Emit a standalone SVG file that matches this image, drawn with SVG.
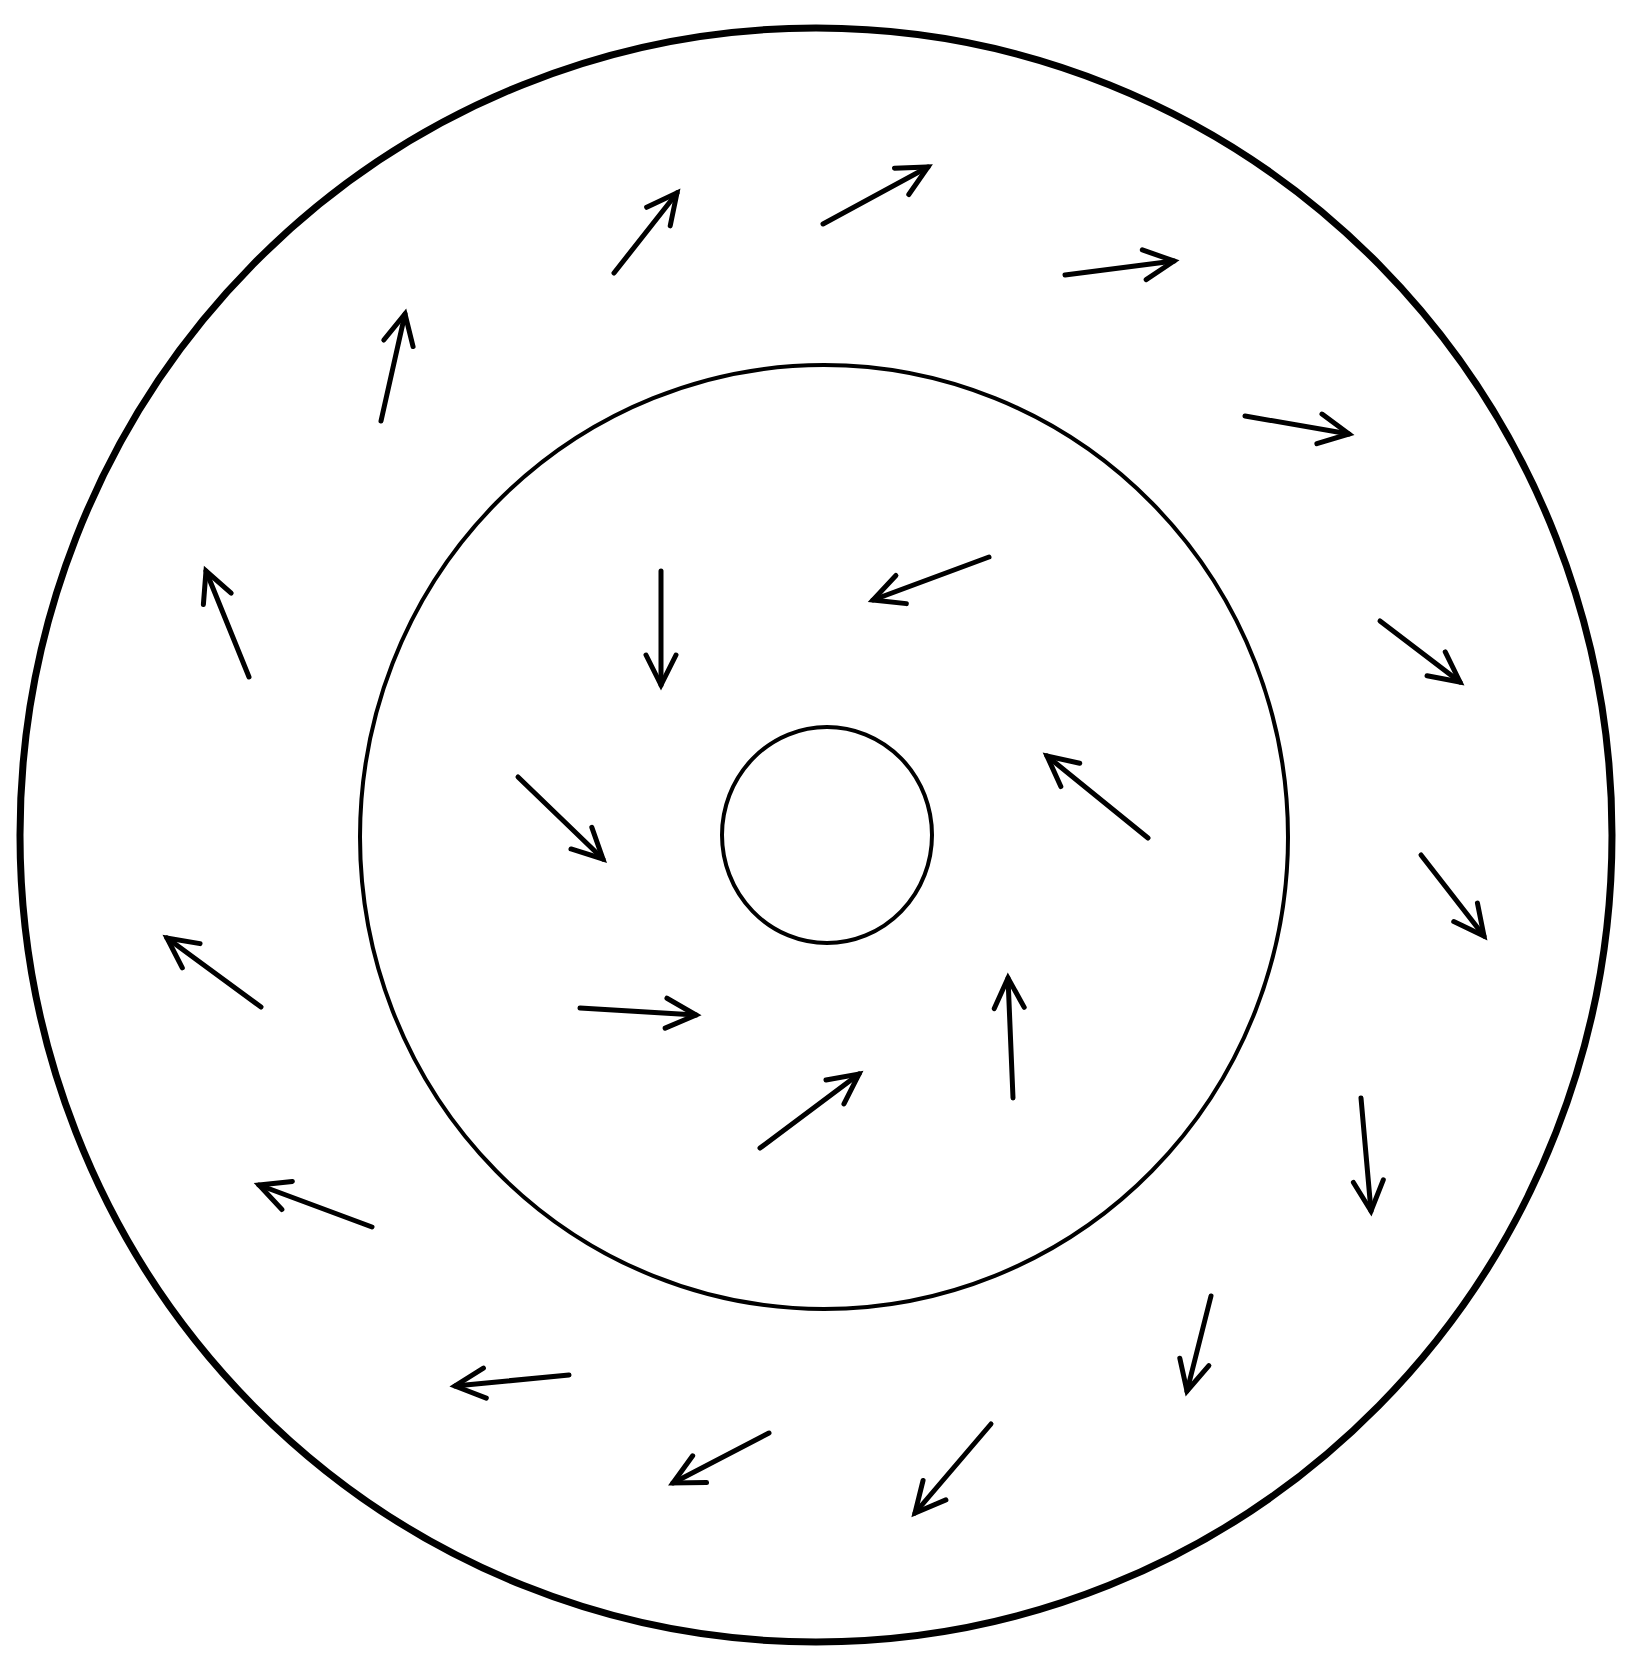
<svg xmlns="http://www.w3.org/2000/svg" width="1629" height="1659" viewBox="0 0 1629 1659">
<style>
.ring{fill:none;stroke:#000}
.arr{stroke:#000;stroke-width:5;stroke-linecap:round;fill:none;marker-end:url(#vh)}
</style>
<defs>
<marker id="vh" markerUnits="userSpaceOnUse" viewBox="-40 -25 50 50" markerWidth="50" markerHeight="50" refX="0" refY="0" orient="auto">
<path d="M-30,-15 L0,0 L-30,15" fill="none" stroke="#000" stroke-width="5" stroke-linejoin="miter" stroke-linecap="round"/>
</marker>
</defs>
<rect width="1629" height="1659" fill="#fff"/>
<g id="outer-circle"><ellipse class="ring" cx="816" cy="835" rx="796" ry="807" stroke-width="7"/></g>
<g id="middle-circle"><ellipse class="ring" cx="824" cy="837" rx="464" ry="472" stroke-width="4"/></g>
<g id="inner-circle"><ellipse class="ring" cx="827" cy="835" rx="105" ry="108" stroke-width="4"/></g>
<g id="connectors">
<line class="arr" x1="614" y1="273" x2="677" y2="193"/>
<line class="arr" x1="823" y1="224" x2="928" y2="167"/>
<line class="arr" x1="1065" y1="275" x2="1174" y2="261"/>
<line class="arr" x1="1245" y1="416" x2="1349" y2="434"/>
<line class="arr" x1="1380" y1="621" x2="1460" y2="682"/>
<line class="arr" x1="1421" y1="855" x2="1484" y2="936"/>
<line class="arr" x1="1361" y1="1098" x2="1371" y2="1211"/>
<line class="arr" x1="1211" y1="1296" x2="1187" y2="1391"/>
<line class="arr" x1="991" y1="1424" x2="915" y2="1513"/>
<line class="arr" x1="769" y1="1433" x2="673" y2="1483"/>
<line class="arr" x1="569" y1="1375" x2="455" y2="1386"/>
<line class="arr" x1="372" y1="1227" x2="259" y2="1185"/>
<line class="arr" x1="261" y1="1007" x2="167" y2="938"/>
<line class="arr" x1="249" y1="677" x2="206" y2="571"/>
<line class="arr" x1="381" y1="421" x2="405" y2="314"/>
<line class="arr" x1="989" y1="557" x2="873" y2="600"/>
<line class="arr" x1="661" y1="571" x2="661" y2="685"/>
<line class="arr" x1="518" y1="777" x2="603" y2="859"/>
<line class="arr" x1="580" y1="1008" x2="696" y2="1015"/>
<line class="arr" x1="760" y1="1148" x2="859" y2="1074"/>
<line class="arr" x1="1013" y1="1098" x2="1008" y2="978"/>
<line class="arr" x1="1148" y1="838" x2="1047" y2="756"/>
</g>
</svg>
